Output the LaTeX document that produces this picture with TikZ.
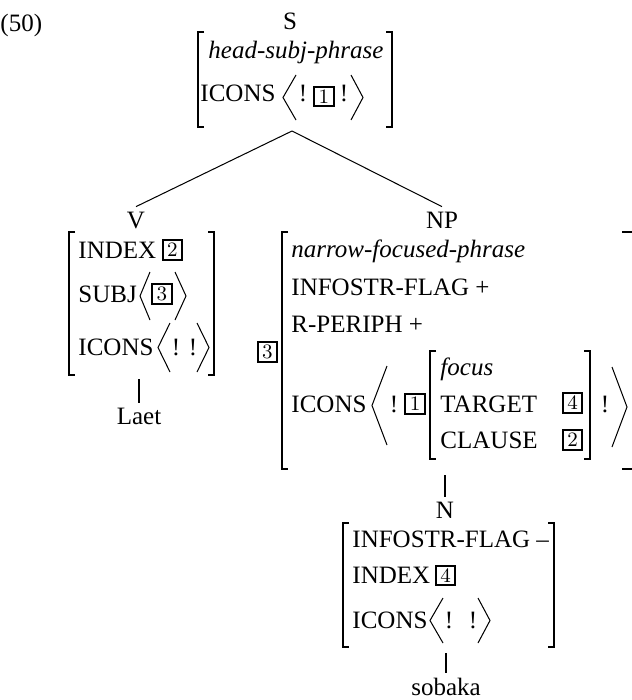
\documentclass[tikz,border=0pt]{standalone}
\usepackage[no-math]{fontspec}
\setmainfont{Liberation Serif}
\begin{document}
\begin{tikzpicture}[x=0.44pt, y=-0.44pt, font=\fontsize{11}{13}\selectfont,
  row/.style={anchor=base west, inner sep=0pt},
  cat/.style={anchor=base, inner sep=2pt},
  bang/.style={anchor=base, inner sep=0pt},
  tag/.style={draw, line width=0.85pt, minimum size=8.6pt, inner sep=0pt, font=\fontsize{9}{9}\selectfont},
  brack/.style={line width=0.75pt},
  angl/.style={line width=0.45pt},
  branch/.style={line width=0.45pt}]
\useasboundingbox (0,0) rectangle (632,700);
\node[row] (ex) at (0,32) {(50)};
% S
\node[cat] (s) at (290,30) {S};
\draw[brack] (204,32) -- (198,32) -- (198,127) -- (204,127);
\draw[brack] (386,32) -- (392,32) -- (392,127) -- (386,127);
\node[row] (s-type) at (208,59) {\itshape head-subj-phrase};
\node[row] (s-icons) at (200,102) {ICONS};
\draw[angl] (296,75) -- (283,97.5) -- (296,120);
\node[bang] (s-b1) at (303,102) {!};
\node[tag] (s-t1) at (324,96.5) {$1$};
\node[bang] (s-b2) at (344,102) {!};
\draw[angl] (351,75) -- (363,97.5) -- (351,120);
\coordinate (s-root) at (292,131);
% V
\node[cat] (v) at (136,228) {V};
\draw[brack] (75,232) -- (69,232) -- (69,375) -- (75,375);
\draw[brack] (208,232) -- (214,232) -- (214,375) -- (208,375);
\node[row] (v-index) at (78,258) {INDEX};
\node[tag] (v-t2) at (172.5,250) {$2$};
\node[row] (v-subj) at (78,302) {SUBJ};
\draw[angl] (150,272) -- (140,296) -- (150,320);
\node[tag] (v-t3) at (162,294) {$3$};
\draw[angl] (175,272) -- (186,296) -- (175,320);
\node[row] (v-icons) at (78,355) {ICONS};
\draw[angl] (170,323) -- (158,347.5) -- (170,372);
\node[bang] (v-b1) at (176,355) {!};
\node[bang] (v-b2) at (193,355) {!};
\draw[angl] (197,323) -- (209,347.5) -- (197,372);
\coordinate (v-stem) at (139,379);
\node[cat] (laet) at (139,424) {Laet};
% NP
\node[cat] (np) at (442,228) {NP};
\node[tag] (np-t3) at (267.5,352) {$3$};
\draw[brack] (288,232) -- (282,232) -- (282,469) -- (288,469);
\draw[brack] (622,232) -- (633.5,232) -- (633.5,469) -- (622,469);
\node[row] (np-type) at (291,257) {\itshape narrow-focused-phrase};
\node[row] (np-flag) at (291,295) {INFOSTR-FLAG +};
\node[row] (np-periph) at (291,332) {R-PERIPH +};
\node[row] (np-icons) at (291,412) {ICONS};
\draw[angl] (387,366) -- (372,405.5) -- (387,445);
\node[bang] (np-b1) at (394,412) {!};
\node[tag] (np-t1) at (415,404) {$1$};
\draw[brack] (436,351) -- (430,351) -- (430,459) -- (436,459);
\draw[brack] (584,351) -- (590,351) -- (590,459) -- (584,459);
\node[row] (fc-type) at (440,375) {\itshape focus};
\node[row] (fc-target) at (440,412) {TARGET};
\node[tag] (fc-t4) at (572.5,403) {$4$};
\node[row] (fc-clause) at (440,448) {CLAUSE};
\node[tag] (fc-t2) at (572.5,440) {$2$};
\node[bang] (np-b2) at (605,412) {!};
\draw[angl] (612,367) -- (627,407) -- (612,447);
\coordinate (np-stem) at (445,475);
% N
\node[cat] (n) at (445,518) {N};
\draw[brack] (349,523) -- (343,523) -- (343,647) -- (349,647);
\draw[brack] (548,523) -- (554,523) -- (554,647) -- (548,647);
\node[row] (n-flag) at (352,547) {INFOSTR-FLAG --};
\node[row] (n-index) at (352,583) {INDEX};
\node[tag] (n-t4) at (445.5,575.5) {$4$};
\node[row] (n-icons) at (352,628) {ICONS};
\draw[angl] (443,598) -- (430,620.5) -- (443,643);
\node[bang] (n-b1) at (449,628) {!};
\node[bang] (n-b2) at (473,628) {!};
\draw[angl] (478,598) -- (490,620.5) -- (478,643);
\coordinate (n-stem) at (446,653);
\node[cat] (sobaka) at (446,695) {sobaka};
% branches
\draw[branch] (s-root) -- (v.north);
\draw[branch] (s-root) -- (np.north);
\draw[branch] (v-stem) -- (laet.north);
\draw[branch] (np-stem) -- (n.north);
\draw[branch] (n-stem) -- (sobaka.north);
\end{tikzpicture}
\end{document}
